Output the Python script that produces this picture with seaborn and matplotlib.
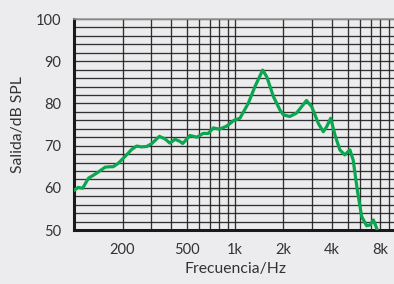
import matplotlib
matplotlib.use("Agg")
import matplotlib.pyplot as plt
import matplotlib.ticker as mticker
import seaborn as sns

# Frequency response (Hz, dB SPL)
freq_hz = [100, 106, 113, 123, 132, 142, 156, 167, 175, 188, 207, 228, 245, 263,
           283, 304, 339, 367, 394, 424, 455, 473, 525, 579, 635, 682, 733, 799,
           886, 985, 1073, 1208, 1330, 1485, 1575, 1733, 1905, 2000, 2186, 2408,
           2780, 2998, 3290, 3536, 3712, 3930, 4180, 4480, 4810, 5170, 5420,
           5750, 6120, 6580, 6900, 7240, 7660]
level_db = [59.4, 60.1, 59.9, 62.3, 63.0, 63.8, 64.9, 65.0, 65.0, 65.8, 67.4, 69.1,
            69.9, 69.7, 69.8, 70.5, 72.2, 71.6, 70.6, 71.5, 71.0, 70.5, 72.4, 72.0,
            72.9, 72.9, 74.2, 73.9, 74.6, 76.0, 76.5, 80.0, 84.0, 87.9, 86.3, 81.6,
            78.4, 77.3, 76.9, 77.7, 80.7, 79.2, 75.3, 73.3, 74.5, 76.5, 72.5, 69.0,
            67.8, 69.0, 66.6, 59.5, 53.2, 51.0, 51.2, 52.4, 50.0]

x_ticks = [200, 500, 1000, 2000, 4000, 8000]
x_tick_labels = ["200", "500", "1k", "2k", "4k", "8k"]
y_ticks = [50, 60, 70, 80, 90, 100]

BG = "#ECECEE"
GREEN = "#0BA64F"
TEXT = "#333333"

sns.set_theme(style="white")
plt.rcParams["font.family"] = ["Lato", "DejaVu Sans"]

fig = plt.figure(figsize=(3.94, 2.84), dpi=100, facecolor=BG)
ax = fig.add_axes([0.188, 0.19, 0.817, 0.743])
ax.set_facecolor(BG)

sns.lineplot(x=freq_hz, y=level_db, ax=ax, color=GREEN, linewidth=2.3,
             zorder=5, clip_on=True)

ax.set_xscale("log")
ax.set_xlim(100, 10000)
ax.set_ylim(50, 100)

ax.xaxis.set_major_locator(mticker.FixedLocator(x_ticks))
ax.xaxis.set_major_formatter(mticker.FixedFormatter(x_tick_labels))
ax.xaxis.set_minor_locator(mticker.LogLocator(base=10, subs=range(1, 10), numticks=20))
ax.xaxis.set_minor_formatter(mticker.NullFormatter())
ax.yaxis.set_major_locator(mticker.FixedLocator(y_ticks))
ax.yaxis.set_minor_locator(mticker.MultipleLocator(2))

ax.grid(which="both", color="#1e1e1e", linewidth=0.95, alpha=0.9)
ax.set_axisbelow(True)

ax.tick_params(axis="both", which="major", direction="out", color="#777777",
               labelcolor=TEXT, labelsize=10.5)
ax.tick_params(axis="y", which="major", length=7, width=1, pad=2)
ax.tick_params(axis="x", which="major", length=4, width=1, pad=5)
ax.tick_params(which="minor", length=0)

for side in ["left", "bottom"]:
    ax.spines[side].set_color("#1a1a1a")
    ax.spines[side].set_linewidth(2.2)
ax.spines["top"].set_color("#999999")
ax.spines["top"].set_linewidth(1.2)
ax.spines["right"].set_visible(False)

ax.set_xlabel("Frecuencia/Hz", fontsize=11.3, color=TEXT, labelpad=4)
ax.set_ylabel("Salida/dB SPL", fontsize=11.3, color=TEXT, labelpad=8)

fig.savefig("out.png", dpi=100, facecolor=BG)
